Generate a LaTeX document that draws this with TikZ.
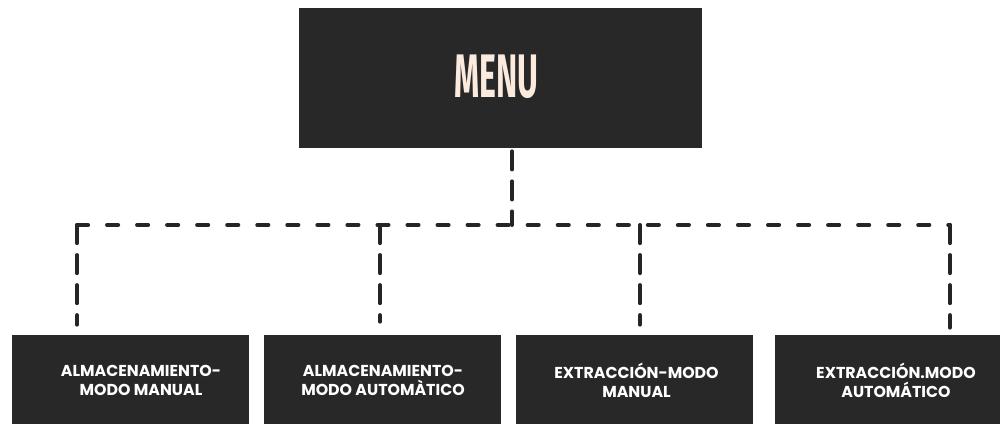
\documentclass[tikz,border=0pt]{standalone}
\usepackage{fontspec}
\setmainfont{Liberation Sans}
\newfontfamily\menufont{Fira Sans}
\newfontfamily\leaffont{Poppins}
\begin{document}
\definecolor{boxgray}{HTML}{282828}
\definecolor{linegray}{HTML}{252525}
\definecolor{cream}{HTML}{FBEBDF}
\begin{tikzpicture}[x=0.02cm,y=-0.02cm,
  menubox/.style={fill=boxgray,draw=none,minimum width=403*0.02cm,minimum height=140*0.02cm,inner sep=0pt},
  leafbox/.style={fill=boxgray,draw=none,minimum width=237*0.02cm,minimum height=95*0.02cm,inner sep=0pt},
  leaftext/.style={text=white,align=center,font=\leaffont\bfseries\fontsize{9}{10.8}\selectfont,inner sep=0pt},
  hdash/.style={draw=linegray,line width=4*0.02cm,line cap=round,dash pattern=on 6.3pt off 10.8pt},
  vdash/.style={draw=linegray,line width=4*0.02cm,line cap=round,dash pattern=on 10.3pt off 6.8pt}]
\useasboundingbox[fill=white] (0,0) rectangle (1000,423);
\begin{scope}
\clip (0,0) rectangle (1000,423);
% top box
\node[menubox] (menu) at (500.5,78) {};
\node[text=cream,font=\menufont\bfseries\fontsize{35}{35}\selectfont,inner sep=0pt] (menut) at (496.5,77) {\scalebox{0.52}[1]{MENU}};
% leaf boxes
\node[leafbox] (b1) at (130,382.5) {};
\node[leafbox] (b2) at (382.5,382.5) {};
\node[leafbox] (b3) at (634.5,382.5) {};
\node[leafbox] (b4) at (893,382.5) {};
\node[leaftext] (t1) at (141,380) {ALMACENAMIENTO-\\MODO MANUAL};
\node[leaftext] (t2) at (383,380) {ALMACENAMIENTO-\\MODO AUTOMÀTICO};
\node[leaftext] (t3) at (636.5,380) {EXTRACCIÓN-MODO\\MANUAL};
\node[leaftext] (t4) at (896,380) {EXTRACCIÓN.MODO\\AUTOMÁTICO};
\end{scope}
% connector junctions
\coordinate (j) at (512,225);
\coordinate (h1) at (77,225);
\coordinate (h2) at (380,225);
\coordinate (h3) at (640,225);
\coordinate (h4) at (950,225);
\draw[vdash] ([yshift=-3*0.02cm]menu.south -| j) -- (j);
\draw[hdash] (h1) -- (h4);
\draw[vdash,shorten >=10*0.02cm] (h1) -- (b1.north -| h1);
\draw[vdash,shorten >=13*0.02cm] (h2) -- (b2.north -| h2);
\draw[vdash,shorten >=10*0.02cm] (h3) -- (b3.north -| h3);
\draw[vdash,shorten >=7*0.02cm] (h4) -- (b4.north -| h4);
\end{tikzpicture}
\end{document}
